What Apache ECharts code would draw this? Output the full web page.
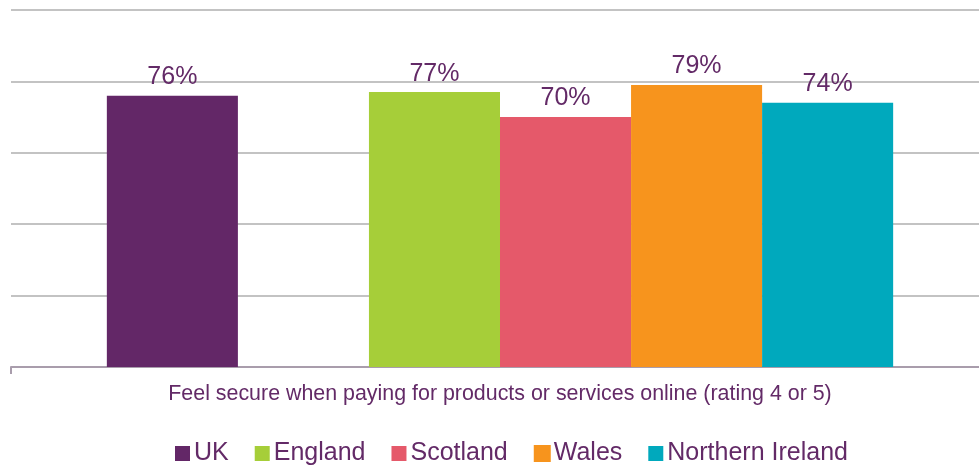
<!DOCTYPE html>
<html>
<head>
<meta charset="utf-8">
<script src="https://cdn.jsdelivr.net/npm/echarts@6/dist/echarts.min.js"></script>
<style>
  html, body { margin: 0; padding: 0; background: #fff; }
  #chart { width: 979px; height: 466px; }
</style>
</head>
<body>
<div id="chart"></div>
<script>
var categories = ["Feel secure when paying for products or services online (rating 4 or 5)"];
var seriesNames = ["UK", "England", "Scotland", "Wales", "Northern Ireland"];
var seriesValues = [[76], [77], [70], [79], [74]];
var seriesColors = ["#632767", "#a6ce39", "#e5596a", "#f7941d", "#00a9bd"];
var yTicks = [0, 20, 40, 60, 80, 100];

var textColor = "#632a67";
var chart = echarts.init(document.getElementById("chart"));

var series = [];
seriesNames.forEach(function (name, i) {
  series.push({
    name: name,
    type: "bar",
    barGap: "0%",
    barCategoryGap: "19.6%",
    data: seriesValues[i],
    itemStyle: i === 3
      ? { color: seriesColors[i], borderColor: seriesColors[i], borderWidth: 2 }
      : { color: seriesColors[i] },
    label: {
      show: true,
      position: "top",
      distance: 6,
      formatter: "{c}%",
      color: textColor,
      fontSize: 25,
      fontFamily: "Liberation Sans"
    }
  });
  // empty slot between UK and the nations
  if (i === 0) {
    series.push({ name: "", type: "bar", barGap: "0%", data: [null] });
  }
});

chart.setOption({
  animation: false,
  color: seriesColors,
  grid: { left: 11, top: 10, width: 978, height: 357, containLabel: false, outerBoundsMode: "none" },
  legend: {
    data: seriesNames,
    top: 436,
    left: 170,
    icon: "rect",
    itemWidth: 15,
    itemHeight: 15,
    itemGap: 26,
    textStyle: { color: textColor, fontSize: 25, fontFamily: "Liberation Sans", padding: [0, 0, 0, -1] }
  },
  xAxis: {
    type: "category",
    data: categories,
    axisLine: { lineStyle: { color: "#a99dac", width: 2 } },
    axisTick: { show: true, length: 7, lineStyle: { color: "#a99dac", width: 2 } },
    axisLabel: { color: textColor, fontSize: 21.4, fontFamily: "Liberation Sans", margin: 17 }
  },
  yAxis: {
    type: "value",
    min: yTicks[0],
    max: yTicks[yTicks.length - 1],
    interval: 20,
    axisLabel: { show: false },
    axisLine: { show: false },
    axisTick: { show: false },
    splitLine: { lineStyle: { color: "#c3c3c3", width: 2 } }
  },
  series: series
});
</script>
</body>
</html>
